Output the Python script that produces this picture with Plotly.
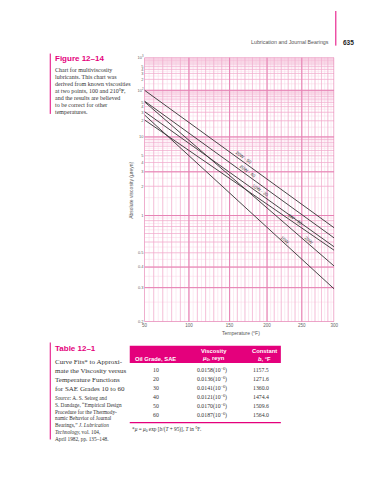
import numpy as np
import plotly.graph_objects as go

W, H = 375, 480
SERIF = "Liberation Serif"
SANS = "Liberation Sans"
MAG = "#e4007c"

# ---------------- data ----------------
temps_f = [50, 300]
grades = ["20W - 50", "20W - 40", "20W", "10W - 30", "10W", "5W - 30"]
visc_50 = [100.7, 53.9, 51.8, 31.0, 26.4, 20.8]      # µreyn at 50 °F
visc_300 = [0.780, 0.645, 0.406, 0.552, 0.295, 0.521]  # µreyn at 300 °F
label_temp = [168, 174, 261, 191, 226, 240]

x_ticks = [50, 100, 150, 200, 250, 300]
y_ticks = [1000, 500, 400, 300, 200, 100, 50, 40, 30, 20, 10, 5, 4, 3, 2, 1, 0.5, 0.4, 0.3, 0.2]
y_ticktext = ["10<sup>3</sup>", "5", "4", "3", "2", "10<sup>2</sup>", "5", "4", "3", "2",
              "10", "5", "4", "3", "2", "1", "0.5", "0.4", "0.3", "0.2"]

table_grades = ["10", "20", "30", "40", "50", "60"]
table_mu0 = ["0.0158", "0.0136", "0.0141", "0.0121", "0.0170", "0.0187"]
table_b = ["1157.5", "1271.6", "1360.0", "1474.4", "1509.6", "1564.0"]

caption = ["Chart for multiviscosity", "lubricants. This chart was", "derived from known viscosities",
           "at two points, 100 and 210°F,", "and the results are believed", "to be correct for other",
           "temperatures."]
table_caption = ["Curve Fits* to Approxi-", "mate the Viscosity versus", "Temperature Functions",
                 "for SAE Grades 10 to 60"]
source = ["<i>Source:</i> A. S. Seireg and", "S. Dandage, \u201cEmpirical Design",
          "Procedure for the Thermody-", "namic Behavior of Journal",
          "Bearings,\u201d <i>J. Lubrication</i>", "<i>Technology,</i> vol. 104,",
          "April 1982, pp. 135\u2013148."]


# ---------------- transforms (ASTM-type paper) ----------------
def tx(t):
    return np.log10(np.asarray(t, dtype=float) + 460.0)


def ty(v):
    return np.log10(np.log10(7.9 * np.asarray(v, dtype=float) + 0.7))


X0, X1 = float(tx(50)), float(tx(300))
Y0, Y1 = float(ty(0.2)), float(ty(1000))

# plot area in pixels
PL, PR, PT, PB = 136, 329.3, 47, 314

fig = go.Figure()


def grid_trace(tvals, vvals, color, width):
    xs, ys = [], []
    for t in tvals:
        xs += [float(tx(t)), float(tx(t)), None]
        ys += [Y0, Y1, None]
    for v in vvals:
        xs += [X0, X1, None]
        ys += [float(ty(v)), float(ty(v)), None]
    fig.add_trace(go.Scatter(x=xs, y=ys, mode="lines", line=dict(color=color, width=width),
                             hoverinfo="skip", showlegend=False))


# grid values
t_thin = list(range(50, 301, 5))
t_med = list(range(50, 301, 10))
t_thick = list(range(50, 301, 50))
v_thin = (list(np.arange(0.2, 1.0, 0.05)) + list(np.arange(1, 10, 0.5)) +
          list(np.arange(10, 100, 5)) + list(np.arange(100, 1000, 50)))
v_med = [0.2, 0.3, 0.4, 0.5, 0.6, 0.7, 0.8, 0.9] + [k * m for m in (1, 10, 100) for k in range(1, 10)]
v_thick = [0.2, 0.3, 0.4, 1, 3, 10, 100, 1000]

grid_trace(t_thin, v_thin, "#f9d3e5", 0.5)
grid_trace(t_med, v_med, "#f0a8cb", 0.6)
grid_trace(t_thick, v_thick, "#e683b4", 1.0)

# oil lines
for g, a, b in zip(grades, visc_50, visc_300):
    fig.add_trace(go.Scatter(x=tx(temps_f), y=[float(ty(a)), float(ty(b))], mode="lines",
                             line=dict(color="#333333", width=0.9), name=g, showlegend=False,
                             hoverinfo="skip"))

# line labels
sx = (PR - PL) / (X1 - X0)
sy = (PB - PT) / (Y1 - Y0)
for g, a, b, lt in zip(grades, visc_50, visc_300, label_temp):
    xa, xb = tx(temps_f)
    ya, yb = float(ty(a)), float(ty(b))
    xl = float(tx(lt))
    yl = ya + (yb - ya) * (xl - xa) / (xb - xa)
    ang = np.degrees(np.arctan(-(yb - ya) * sy / ((xb - xa) * sx)))
    fig.add_annotation(x=xl, y=yl, xref="x", yref="y", text=g, showarrow=False,
                       textangle=float(ang), yshift=4,
                       font=dict(family=SANS, size=4.5, color="#444"))

fig.update_layout(
    width=W, height=H, margin=dict(l=0, r=0, t=0, b=0),
    paper_bgcolor="white", plot_bgcolor="white", showlegend=False,
    xaxis=dict(domain=[PL / W, PR / W], range=[X0, X1], tickvals=list(tx(x_ticks)),
               ticktext=[str(t) for t in x_ticks], showgrid=False, zeroline=False,
               showline=False, ticks="", tickfont=dict(family=SANS, size=4.5, color="#666")),
    yaxis=dict(domain=[1 - PB / H, 1 - PT / H], range=[Y0, Y1], tickvals=list(ty(y_ticks)),
               ticktext=y_ticktext, showgrid=False, zeroline=False, showline=False, ticks="",
               tickfont=dict(family=SANS, size=4, color="#666")),
)


def px(x):
    return x / W


def py(y):
    return 1 - y / H


def ann(x, y, text, size, color="#222", family=SERIF, xanchor="left", angle=0):
    fig.add_annotation(x=px(x), y=py(y), xref="paper", yref="paper", text=text, showarrow=False,
                       xanchor=xanchor, yanchor="middle", textangle=angle,
                       font=dict(family=family, size=size, color=color))


# axis titles
ann(122, 181, "Absolute viscosity (\u03bcreyn)", 5, "#555", SANS, "center", -90)
ann(234, 325, "Temperature (°F)", 5, "#555", SANS, "center")

# running header
ann(326, 31.7, "Lubrication and Journal Bearings", 5.3, "#555", SANS, "right")
ann(336, 31.7, "<b>635</b>", 6.5, "#222", SANS, "left")
fig.add_shape(type="line", xref="paper", yref="paper", x0=px(331), x1=px(331), y0=py(0), y1=py(35),
              line=dict(color=MAG, width=1))

# figure caption
ann(43, 48, "<b>Figure 12\u201314</b>", 8, MAG, SANS)
fig.add_shape(type="line", xref="paper", yref="paper", x0=px(40), x1=px(40), y0=py(43), y1=py(104),
              line=dict(color=MAG, width=1))
for i, line in enumerate(caption):
    ann(43, 59.3 + 7.1 * i, line, 6, "#333")

# table caption
ann(43, 341, "<b>Table 12\u20131</b>", 8, MAG, SANS)
fig.add_shape(type="line", xref="paper", yref="paper", x0=px(40), x1=px(40), y0=py(335), y1=py(433),
              line=dict(color=MAG, width=1))
for i, line in enumerate(table_caption):
    ann(43, 354.3 + 9.1 * i, line, 7, "#333")
for i, line in enumerate(source):
    ann(43, 391 + 6.9 * i, line, 5.3, "#333")

# table
fig.add_shape(type="rect", xref="paper", yref="paper", x0=px(121), x1=px(275), y0=py(338.3), y1=py(355.7),
              fillcolor=MAG, line=dict(width=0), layer="above")
ann(147.5, 351.5, "<b>Oil Grade, SAE</b>", 5.8, "white", SANS, "center")
ann(206.7, 344, "<b>Viscosity</b>", 5.8, "white", SANS, "center")
ann(206.7, 351.5, "<b><i>\u03bc</i><sub>0</sub>, reyn</b>", 5.8, "white", SANS, "center")
ann(258.3, 344, "<b>Constant</b>", 5.8, "white", SANS, "center")
ann(258.3, 351.5, "<b><i>b</i>, °F</b>", 5.8, "white", SANS, "center")
for i, (g, m, b) in enumerate(zip(table_grades, table_mu0, table_b)):
    yy = 362.9 + 9.1 * i
    ann(147.7, yy, g, 5.8, "#333", SERIF, "center")
    ann(205, yy, m + "(10<sup>\u22126</sup>)", 5.8, "#333", SERIF, "center")
    ann(255, yy, b, 5.8, "#333", SERIF, "center")
fig.add_shape(type="line", xref="paper", yref="paper", x0=px(121), x1=px(275), y0=py(416), y1=py(416),
              line=dict(color=MAG, width=1.2))
ann(121, 422.5, "*<i>\u03bc</i> = <i>\u03bc</i><sub>0</sub> exp [<i>b</i>/(<i>T</i> + 95)], <i>T</i> in °F.",
    5.3, "#333", SERIF)

fig.write_html("out.html")
